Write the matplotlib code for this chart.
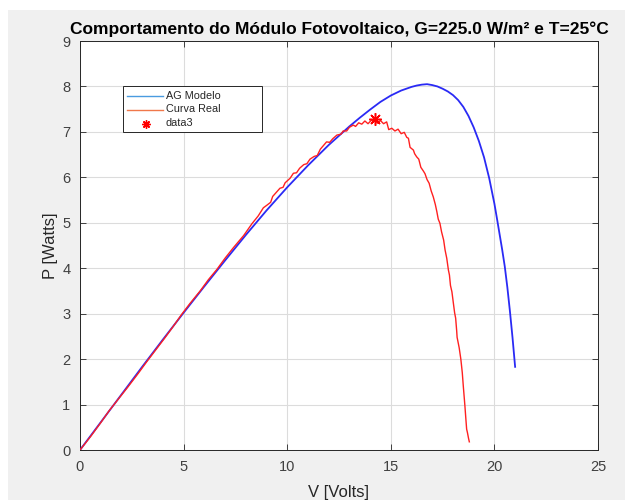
import matplotlib
matplotlib.use("Agg")
import matplotlib.pyplot as plt
from matplotlib.patches import Rectangle
from matplotlib.lines import Line2D

plt.rcParams['font.family'] = ['Liberation Sans', 'DejaVu Sans']

# Model curve (AG Modelo)
v_model = [0, 1, 2, 3, 4, 5, 6, 7, 8, 9, 10, 11, 12, 13, 13.5, 14, 14.5, 15, 15.5,
           16.0, 16.25, 16.5, 16.75, 17.0, 17.25, 17.5, 17.75, 18.0, 18.25, 18.5,
           18.75, 19.0, 19.25, 19.5, 19.75, 20.0, 20.125, 20.25, 20.375, 20.5,
           20.625, 20.75, 20.875, 21.0]
p_model = [0, 0.61, 1.22, 1.83, 2.43, 3.02, 3.60, 4.17, 4.73, 5.27, 5.78, 6.26, 6.71,
           7.12, 7.31, 7.49, 7.66, 7.80, 7.91, 7.99, 8.02, 8.04, 8.05, 8.03, 8.00,
           7.95, 7.89, 7.81, 7.70, 7.55, 7.35, 7.10, 6.80, 6.44, 5.98, 5.42, 5.09,
           4.75, 4.41, 4.04, 3.58, 3.05, 2.47, 1.83]

# Measured curve (Curva Real)
v_real = [0, 0.5, 1.0, 1.4, 1.9, 2.3, 2.8, 3.2, 3.7, 4.1, 4.5, 4.9, 5.3, 5.8, 6.2,
          6.6, 7.0, 7.4, 7.9, 8.3, 8.6, 8.85, 9.0, 9.2, 9.3, 9.65, 9.8, 9.9, 10.14,
          10.3, 10.45, 10.6, 10.8, 10.95, 11.1, 11.3, 11.45, 11.6, 11.9, 12.05,
          12.2, 12.4, 12.6, 12.7, 12.87, 13.0, 13.19, 13.3, 13.45, 13.6, 13.75,
          13.9, 14.05, 14.24, 14.35, 14.5, 14.65, 14.8, 14.9, 15.05, 15.2, 15.35,
          15.5, 15.65, 15.77, 15.85, 15.93, 16.09, 16.15, 16.25, 16.35, 16.45,
          16.57, 16.65, 16.75, 16.85, 16.95, 17.05, 17.15, 17.22, 17.29, 17.37,
          17.45, 17.55, 17.62, 17.7, 17.78, 17.83, 17.88, 17.95, 18.02, 18.08,
          18.13, 18.18, 18.2, 18.3, 18.38, 18.42, 18.45, 18.5, 18.55, 18.58, 18.62,
          18.66, 18.7, 18.75, 18.79]
p_real = [0, 0.29, 0.60, 0.86, 1.15, 1.38, 1.68, 1.93, 2.23, 2.47, 2.72, 2.98, 3.22,
          3.50, 3.75, 3.97, 4.22, 4.45, 4.72, 4.98, 5.15, 5.33, 5.38, 5.45, 5.58,
          5.76, 5.78, 5.88, 5.98, 6.09, 6.10, 6.20, 6.28, 6.30, 6.40, 6.46, 6.48,
          6.62, 6.78, 6.77, 6.85, 6.93, 6.95, 7.02, 7.02, 7.10, 7.15, 7.12, 7.20,
          7.17, 7.24, 7.18, 7.25, 7.26, 7.19, 7.25, 7.18, 7.22, 7.05, 7.08, 7.02,
          7.06, 6.96, 6.99, 6.88, 6.86, 6.66, 6.60, 6.52, 6.45, 6.40, 6.22, 6.14,
          6.08, 5.95, 5.87, 5.70, 5.57, 5.40, 5.25, 5.08, 4.99, 4.80, 4.62, 4.40,
          4.22, 3.96, 3.85, 3.62, 3.48, 3.23, 3.02, 2.90, 2.62, 2.48, 2.25, 2.00,
          1.83, 1.70, 1.40, 1.12, 0.95, 0.70, 0.46, 0.38, 0.26, 0.18]

# Maximum power point of the measured data (data3)
v_mpp = [14.24]
p_mpp = [7.28]

x_ticks = [0, 5, 10, 15, 20, 25]
y_ticks = [0, 1, 2, 3, 4, 5, 6, 7, 8, 9]

W, H = 625, 500
ASTERISK = (8, 2, 0)


def fx(px):
    return px / W


def fy(py):
    return 1 - py / H


fig = plt.figure(figsize=(6.25, 5), dpi=100, facecolor='white')
fig.patches.append(Rectangle((fx(8), 0), 1, 490 / H, transform=fig.transFigure,
                             facecolor='#f0f0f0', edgecolor='none', zorder=-10))

ax = fig.add_axes([fx(80), fy(450), 518 / W, 409 / H])
ax.set_facecolor('white')

ax.plot(v_model, p_model, color='#2a2af5', lw=1.3, zorder=3)
ax.plot(v_real, p_real, color='#ff2020', lw=1.0, zorder=4)
ax.plot(v_mpp, p_mpp, linestyle='none', marker=ASTERISK, color='#ff0000',
        markersize=9, markeredgewidth=1.1, zorder=5)

ax.set_xlim(0, 25)
ax.set_ylim(0, 9)
ax.set_xticks(x_ticks)
ax.set_yticks(y_ticks)
ax.grid(True, color='#dcdcdc', lw=0.8)
ax.set_axisbelow(True)
ax.tick_params(direction='in', length=4, width=0.6, colors='#262626',
               labelcolor='#404040', labelsize=10.5, top=True, right=True, pad=7)
for s in ax.spines.values():
    s.set_color('#262626')
    s.set_linewidth(0.7)

ax.set_title('Comportamento do Módulo Fotovoltaico, G=225.0 W/m² e T=25°C',
             fontsize=12.5, fontweight='bold', color='black', pad=5)
ax.set_xlabel('V [Volts]', fontsize=12, color='#262626', labelpad=8)
ax.set_ylabel('P [Watts]', fontsize=12, color='#262626', labelpad=3)

# Legend box drawn in figure coordinates
fig.add_artist(Rectangle((fx(123), fy(132)), (262 - 123) / W, (132 - 86) / H,
                         transform=fig.transFigure, facecolor='white',
                         edgecolor='#262626', lw=0.7, zorder=10))
entries = [('AG Modelo', '#4a9be0', None, 95.5),
           ('Curva Real', '#f0784a', None, 109.5),
           ('data3', '#ff0000', ASTERISK, 123.5)]
for label, color, marker, py in entries:
    if marker is None:
        fig.add_artist(Line2D([fx(127), fx(163)], [fy(py), fy(py)], color=color,
                              lw=1.0, transform=fig.transFigure, zorder=11))
    else:
        fig.add_artist(Line2D([fx(146)], [fy(py)], color=color, marker=marker,
                              markersize=6, markeredgewidth=1.0, linestyle='none',
                              transform=fig.transFigure, zorder=11))
    fig.text(fx(166), fy(py), label, fontsize=7.8, color='#262626',
             va='center', ha='left', zorder=12)

fig.savefig('out.png', dpi=100, facecolor=fig.get_facecolor())
